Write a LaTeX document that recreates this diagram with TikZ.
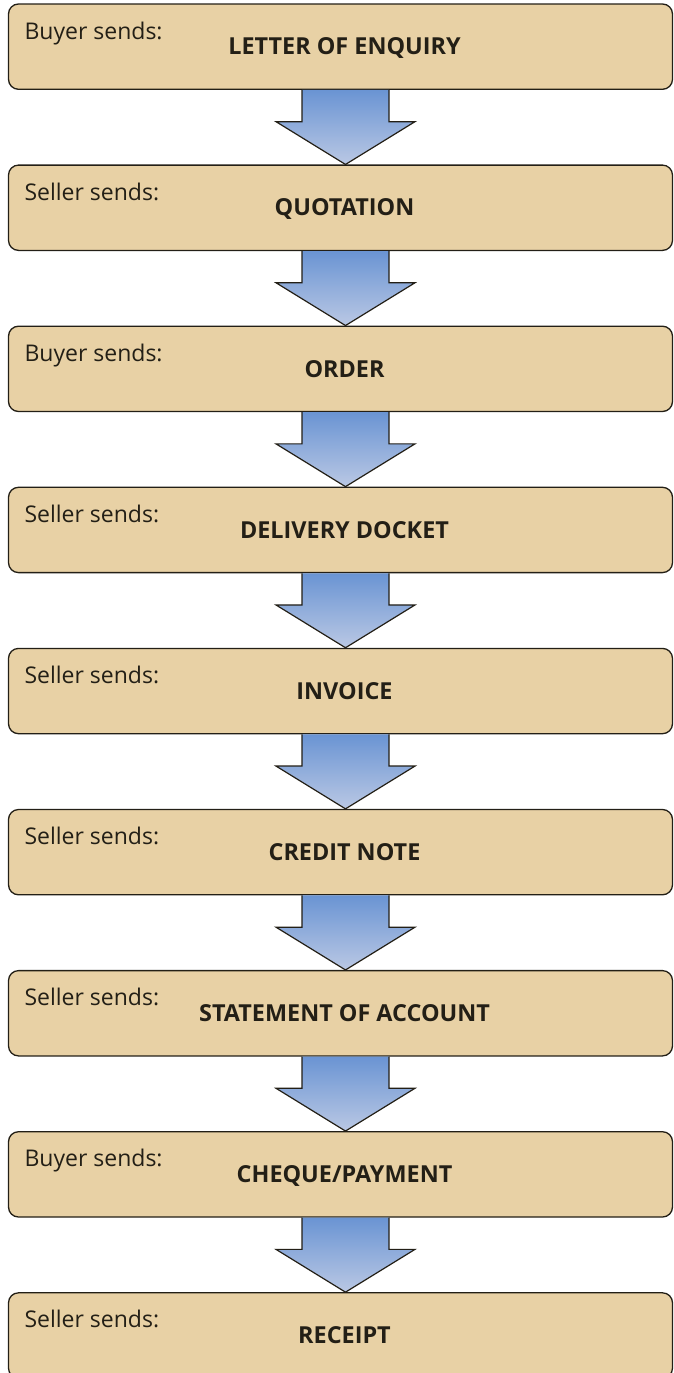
\documentclass[tikz,border=0pt]{standalone}
\usepackage{fontspec}
\setmainfont{Open Sans}
\usetikzlibrary{calc}

\definecolor{sable}{RGB}{232,209,165}
\definecolor{encre}{RGB}{35,31,22}
\definecolor{bleuhaut}{RGB}{106,148,211}
\definecolor{bleubas}{RGB}{186,200,228}

% grosse fleche d'une boite a la suivante
\newcommand{\grossefleche}[2]{%
  \shade[fleche] ($(#1.south)+(-38.5,0)$) -- ++(0,-31.7) -- ++(-26,0)
    -- ($(#2.north)+(5,0)$) -- ($(#1.south)+(74.5,-31.7)$) -- ++(-26,0)
    -- ($(#1.south)+(48.5,0)$);
}

\begin{document}
\begin{tikzpicture}[x=1pt,y=1pt]
% style des noeuds
\tikzstyle{boite} = [rectangle, draw=encre, line width=1.3pt, fill=sable,
  rounded corners=10pt, minimum width=664pt, minimum height=85.3pt]
\tikzstyle{expediteur} = [anchor=base west, inner sep=0pt, text=encre,
  font=\fontsize{23}{27}\selectfont]
\tikzstyle{titre} = [anchor=base, inner sep=0pt, text=encre,
  font=\fontsize{23.4}{28}\selectfont\bfseries]
% style des fleches
\tikzstyle{fleche} = [draw=encre, line width=1.2pt, line join=miter,
  top color=bleuhaut, bottom color=bleubas]

\useasboundingbox (0,0) rectangle (673,-1373);

%% placement des boites
\node[boite] (enquete) at (340.5,-46.65) {};
\node[boite] (devis) at (340.5,-207.75) {};
\node[boite] (commande) at (340.5,-368.85) {};
\node[boite] (livraison) at (340.5,-529.95) {};
\node[boite] (facture) at (340.5,-691.05) {};
\node[boite] (avoir) at (340.5,-852.15) {};
\node[boite] (releve) at (340.5,-1013.25) {};
\node[boite] (paiement) at (340.5,-1174.35) {};
\node[boite] (recu) at (340.5,-1335.45) {};
%
%% textes
\node[expediteur] (e1) at ($(enquete.north west)+(16.5,-35.7)$) {Buyer sends:};
\node[titre] (t1) at ($(enquete.north)+(4,-51.5)$) {LETTER OF ENQUIRY};
\node[expediteur] (e2) at ($(devis.north west)+(16.5,-35.7)$) {Seller sends:};
\node[titre] (t2) at ($(devis.north)+(4,-51.5)$) {QUOTATION};
\node[expediteur] (e3) at ($(commande.north west)+(16.5,-35.7)$) {Buyer sends:};
\node[titre] (t3) at ($(commande.north)+(4,-51.5)$) {ORDER};
\node[expediteur] (e4) at ($(livraison.north west)+(16.5,-35.7)$) {Seller sends:};
\node[titre] (t4) at ($(livraison.north)+(4,-51.5)$) {DELIVERY DOCKET};
\node[expediteur] (e5) at ($(facture.north west)+(16.5,-35.7)$) {Seller sends:};
\node[titre] (t5) at ($(facture.north)+(4,-51.5)$) {INVOICE};
\node[expediteur] (e6) at ($(avoir.north west)+(16.5,-35.7)$) {Seller sends:};
\node[titre] (t6) at ($(avoir.north)+(4,-51.5)$) {CREDIT NOTE};
\node[expediteur] (e7) at ($(releve.north west)+(16.5,-35.7)$) {Seller sends:};
\node[titre] (t7) at ($(releve.north)+(4,-51.5)$) {STATEMENT OF ACCOUNT};
\node[expediteur] (e8) at ($(paiement.north west)+(16.5,-35.7)$) {Buyer sends:};
\node[titre] (t8) at ($(paiement.north)+(4,-51.5)$) {CHEQUE/PAYMENT};
\node[expediteur] (e9) at ($(recu.north west)+(16.5,-35.7)$) {Seller sends:};
\node[titre] (t9) at ($(recu.north)+(4,-51.5)$) {RECEIPT};
%
%% placement des fleches
\grossefleche{enquete}{devis}
\grossefleche{devis}{commande}
\grossefleche{commande}{livraison}
\grossefleche{livraison}{facture}
\grossefleche{facture}{avoir}
\grossefleche{avoir}{releve}
\grossefleche{releve}{paiement}
\grossefleche{paiement}{recu}
\end{tikzpicture}
\end{document}
